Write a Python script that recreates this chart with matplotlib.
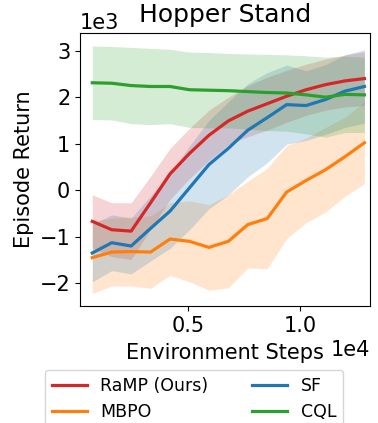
import numpy as np
import matplotlib
matplotlib.use("Agg")
import matplotlib.pyplot as plt

# environment steps of each evaluation point
steps = [700, 1570, 2440, 3310, 4180, 5050, 5920, 6790, 7660, 8530, 9400, 10270, 11140, 12010, 12880]

# mean episode return (x1e3) per method
ramp_mean = [-0.67, -0.85, -0.88, -0.27, 0.35, 0.79, 1.18, 1.49, 1.70, 1.86, 2.02, 2.16, 2.27, 2.35, 2.40]
mbpo_mean = [-1.45, -1.33, -1.32, -1.33, -1.05, -1.10, -1.23, -1.10, -0.74, -0.61, -0.04, 0.21, 0.44, 0.72, 1.02]
sf_mean = [-1.35, -1.13, -1.20, -0.82, -0.45, 0.05, 0.55, 0.90, 1.29, 1.56, 1.84, 1.82, 1.95, 2.13, 2.23]
cql_mean = [2.31, 2.30, 2.25, 2.23, 2.23, 2.16, 2.15, 2.14, 2.12, 2.10, 2.09, 2.05, 2.00, 2.06, 2.05]

# std (x1e3)
ramp_std = [0.57, 0.58, 0.61, 0.57, 0.55, 0.54, 0.54, 0.51, 0.55, 0.57, 0.56, 0.55, 0.55, 0.56, 0.58]
mbpo_std = [0.77, 0.73, 0.74, 0.78, 0.78, 0.87, 0.92, 1.00, 0.93, 1.08, 1.00, 0.91, 0.91, 0.85, 0.88]
sf_std = [0.62, 0.60, 0.60, 0.70, 0.80, 0.90, 0.95, 1.00, 1.00, 0.97, 0.85, 0.75, 0.75, 0.78, 0.79]
cql_std = [0.79, 0.79, 0.82, 0.82, 0.80, 0.81, 0.81, 0.80, 0.81, 0.82, 0.82, 0.84, 0.86, 0.82, 0.81]

plt.rcParams['font.size'] = 15

fig = plt.figure(figsize=(3.78, 4.23), dpi=100)
ax = fig.add_axes([80/378, 1 - 306/423, 290/378, 273/423])

x = np.array(steps)
series = [("RaMP (Ours)", ramp_mean, ramp_std, "tab:red"),
          ("MBPO", mbpo_mean, mbpo_std, "tab:orange"),
          ("SF", sf_mean, sf_std, "tab:blue"),
          ("CQL", cql_mean, cql_std, "tab:green")]
for name, m, s, c in series:
    m = np.array(m) * 1000
    s = np.array(s) * 1000
    ax.plot(x, m, color=c, lw=2.3, label=name)
    ax.fill_between(x, m - s, m + s, color=c, alpha=0.2, lw=0)

ax.set_xlim(150, 13130)
ax.set_ylim(-2490, 3380)
ax.ticklabel_format(style='sci', axis='both', scilimits=(0, 0))
ax.set_title("Hopper Stand", pad=8)
ax.set_xlabel("Environment Steps", labelpad=5)
ax.set_ylabel("Episode Return")

fig.legend(loc="upper center", bbox_to_anchor=(0.513, 1 - 361/423), ncol=2,
           fontsize=12.5, columnspacing=2.5)

fig.savefig("out.png", dpi=100)
